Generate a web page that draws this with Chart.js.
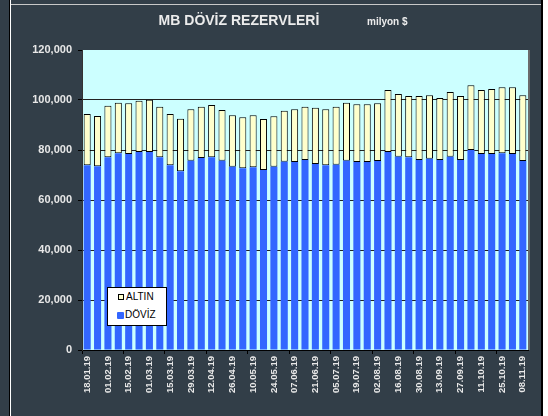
<!DOCTYPE html>
<html>
<head>
<meta charset="utf-8">
<script src="https://cdn.jsdelivr.net/npm/chart.js@4/dist/chart.umd.min.js"></script>
<style>
    body { margin: 0; background: #ffffff; }
    #wrap { position: relative; width: 548px; height: 416px; }
    #title { position: absolute; left: 154px; top: 12px; width: 170px; text-align: center;
        font: bold 14px "Liberation Sans", Arial, sans-serif; color: #ececec; white-space: nowrap; }
    #unit { position: absolute; left: 367px; top: 16px; font: bold 10px "Liberation Sans", Arial, sans-serif; color: #ececec; }
    #legend { position: absolute; left: 107px; top: 287px; width: 58px; height: 37px; background: #fff;
        border: 1px solid #000; font: 10px "Liberation Sans", Arial, sans-serif; color: #000; }
    .item { position: absolute; left: 9px; white-space: nowrap; }
    .item span { display: inline-block; vertical-align: middle; margin-right: 1px; }
</style>
</head>
<body>
<div id="wrap">
    <canvas id="chart" width="548" height="416"></canvas>
    <div id="title">MB DÖVİZ REZERVLERİ</div>
    <div id="unit">milyon $</div>
    <div id="legend">
        <div class="item" style="top:3px"><span style="width:4px;height:4px;background:#ffffcc;border:1px solid #000;margin-left:1px;margin-right:2px"></span>ALTIN</div>
        <div class="item" style="top:21px"><span style="width:7px;height:7px;background:#3366ff;border-radius:1px"></span>DÖVİZ</div>
    </div>
</div>
<script>
const dates = ['18.01.19','25.01.19','01.02.19','08.02.19','15.02.19','22.02.19','01.03.19','08.03.19',
    '15.03.19','22.03.19','29.03.19','05.04.19','12.04.19','19.04.19','26.04.19','03.05.19','10.05.19',
    '17.05.19','24.05.19','31.05.19','07.06.19','14.06.19','21.06.19','28.06.19','05.07.19','12.07.19',
    '19.07.19','26.07.19','02.08.19','09.08.19','16.08.19','23.08.19','30.08.19','06.09.19','13.09.19',
    '20.09.19','27.09.19','04.10.19','11.10.19','18.10.19','25.10.19','01.11.19','08.11.19'];

const doviz = [73900, 73500, 77100, 78700, 78400, 79200, 79200, 77100, 73900, 71500, 75700,
    76800, 77100, 75700, 73300, 72700, 73100, 72000, 73300, 75300, 75200, 76000,
    74400, 73900, 74100, 75700, 75200, 75200, 75600, 79200, 77300, 77100, 76000,
    76500, 76000, 77300, 76000, 80000, 78400, 78400, 78700, 78400, 75600];

const altin = [20500, 20100, 20600, 20200, 20300, 20500, 20900, 20200, 20500, 21000, 20600,
    20500, 20900, 20300, 20600, 20400, 20800, 20400, 20200, 20400, 21100, 21300,
    22500, 22400, 23200, 23200, 23100, 23100, 23100, 24800, 25100, 24500, 25600,
    25400, 24800, 25900, 25600, 25900, 25600, 26000, 26400, 26700, 26300];

const yTicks = [0, 20000, 40000, 60000, 80000, 100000, 120000];

const frame = {
    id: 'frame',
    beforeDraw(chart) {
        const ctx = chart.ctx;
        const a = chart.chartArea;
        ctx.save();
        ctx.fillStyle = '#323e48';
        ctx.fillRect(0, 0, 548, 416);
        ctx.fillStyle = '#000';
        ctx.fillRect(9, 0, 1, 416);
        ctx.fillRect(541, 0, 2, 416);
        ctx.fillStyle = '#fff';
        ctx.fillRect(10, 0, 1, 416);
        ctx.fillRect(543, 0, 5, 416);
        ctx.fillStyle = '#c8c8c8';
        ctx.fillRect(11, 4, 530, 1);
        ctx.fillStyle = '#ccffff';
        ctx.fillRect(a.left, a.top, a.right - a.left, a.bottom - a.top);
        ctx.fillStyle = '#6a6a6a';
        ctx.fillRect(a.right, a.top, 2, a.bottom - a.top);
        ctx.restore();
    }
};

new Chart(document.getElementById('chart'), {
    type: 'bar',
    data: {
        labels: dates,
        datasets: [{
            label: 'DÖVİZ',
            data: doviz,
            backgroundColor: '#3366ff',
            borderWidth: 0,
            barPercentage: 0.68,
            categoryPercentage: 1
        }, {
            label: 'ALTIN',
            data: altin,
            backgroundColor: '#ffffcc',
            borderColor: '#000',
            borderWidth: 1,
            borderSkipped: false,
            barPercentage: 0.68,
            categoryPercentage: 1
        }]
    },
    options: {
        responsive: false,
        animation: false,
        devicePixelRatio: 1,
        layout: { padding: { left: 10, right: 20, top: 50, bottom: 0 } },
        plugins: {
            legend: { display: false },
            title: { display: false },
            tooltip: { enabled: false }
        },
        scales: {
            x: {
                stacked: true,
                afterFit: s => { s.height = 66; },
                border: { color: '#000', width: 1 },
                grid: {
                    drawOnChartArea: false,
                    tickLength: 4,
                    color: c => c.index % 4 === 0 ? '#000' : 'rgba(0,0,0,0)'
                },
                ticks: {
                    autoSkip: false,
                    maxRotation: 90,
                    minRotation: 90,
                    padding: 2,
                    color: '#e8e8e8',
                    font: { family: '"Liberation Sans", Arial, sans-serif', size: 9.5, weight: 'bold' },
                    callback: (v, i) => i % 2 === 0 ? dates[i] : ''
                }
            },
            y: {
                stacked: true,
                min: 0,
                max: 120000,
                afterFit: s => { s.width = 72; },
                afterBuildTicks: s => { s.ticks = yTicks.map(v => ({ value: v })); },
                border: { color: '#333', width: 1 },
                grid: {
                    tickLength: 4,
                    tickColor: '#000',
                    color: c => c.tick && c.tick.value === 120000 ? 'rgba(0,0,0,0)' : '#222'
                },
                ticks: {
                    padding: 6,
                    color: '#e8e8e8',
                    font: { family: '"Liberation Sans", Arial, sans-serif', size: 11, weight: 'bold' },
                    callback: v => v.toLocaleString('en-US')
                }
            }
        }
    },
    plugins: [frame]
});
</script>
</body>
</html>
